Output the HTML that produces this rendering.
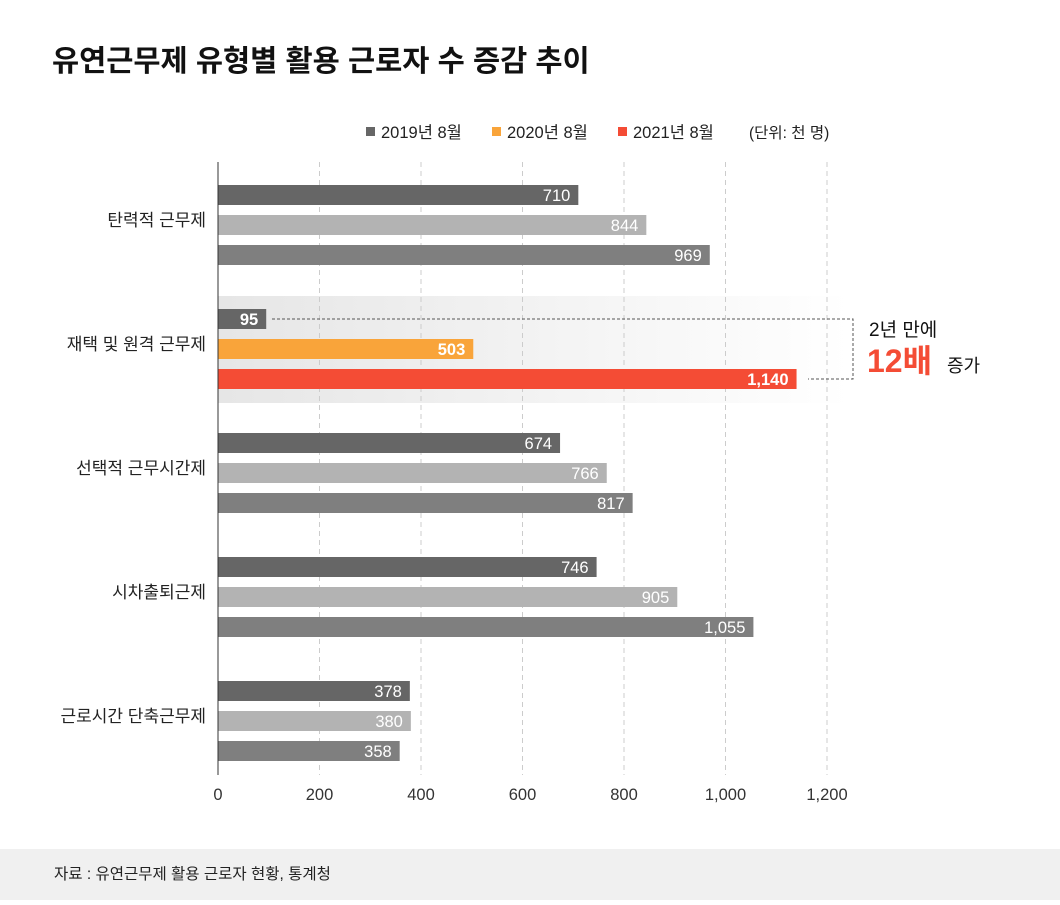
<!DOCTYPE html>
<html><head><meta charset="utf-8">
<style>
body{margin:0;width:1060px;height:900px;background:#fff;overflow:hidden;font-family:"Liberation Sans","Noto Sans CJK KR",sans-serif}
svg text{font-family:"Liberation Sans","Noto Sans CJK KR",sans-serif}
</style></head><body>
<svg id="chart" width="1060" height="900" xmlns="http://www.w3.org/2000/svg">
<defs><linearGradient id="hl" x1="0" x2="1" y1="0" y2="0"><stop offset="0" stop-color="#e6e6e6"/><stop offset="1" stop-color="#ffffff"/></linearGradient></defs>
<text x="52" y="71" font-size="29.5" font-weight="bold" fill="#111">유연근무제 유형별 활용 근로자 수 증감 추이</text>
<g font-size="16.5" fill="#222">
<rect x="366" y="127" width="9" height="9" fill="#666"/><text x="381" y="138">2019년 8월</text>
<rect x="492" y="127" width="9" height="9" fill="#f9a43a"/><text x="507" y="138">2020년 8월</text>
<rect x="618" y="127" width="9" height="9" fill="#f44c35"/><text x="633" y="138">2021년 8월</text>
<text x="749" y="138" font-size="15.5">(단위: 천 명)</text>
</g>
<rect x="218" y="296" width="632" height="107" fill="url(#hl)"/>
<g id="grid"></g><g id="bars"></g><g id="labels"></g>
<line x1="218" y1="162" x2="218" y2="775" stroke="#333" stroke-width="1"/>
<g>
<polyline points="272,319 853,319 853,379 808,379" fill="none" stroke="#555" stroke-dasharray="3,2" stroke-width="1"/>
<text x="869" y="336" font-size="19" fill="#111">2년 만에</text>
<text x="867" y="372" font-size="32" font-weight="bold" fill="#f44c35">12배</text>
<text x="947" y="372" font-size="18" fill="#111">증가</text>
</g>
<rect x="0" y="849" width="1060" height="51" fill="#f0f0f0"/>
<text x="54" y="879" font-size="15.5" fill="#222">자료 : 유연근무제 활용 근로자 현황, 통계청</text>
</svg>
<script>
const categories=["탄력적 근무제","재택 및 원격 근무제","선택적 근무시간제","시차출퇴근제","근로시간 단축근무제"];
const values2019=[710,95,674,746,378];
const values2020=[844,503,766,905,380];
const values2021=[969,1140,817,1055,358];
const ticks=[0,200,400,600,800,1000,1200];
const NS="http://www.w3.org/2000/svg";
const x0=218,pxPer=(827-218)/1200;
const xs=v=>x0+v*pxPer;
function mk(t,a,p){const e=document.createElementNS(NS,t);for(const k in a)e.setAttribute(k,a[k]);p.appendChild(e);return e;}
const grid=document.getElementById('grid'),bars=document.getElementById('bars'),labels=document.getElementById('labels');
ticks.forEach(t=>{
 if(t>0){const l=mk('line',{x1:xs(t),x2:xs(t),y1:162,y2:775,stroke:'#ccc','stroke-dasharray':'5,4'},grid);
 
 }
 const tx=mk('text',{x:xs(t),y:800,'font-size':16.5,fill:'#333','text-anchor':'middle'},labels);
 tx.textContent=t.toLocaleString('en-US');
 
 
});
const series=[values2019,values2020,values2021];
const normal=['#666666','#b3b3b3','#7f7f7f'],hi=['#666666','#f9a43a','#f44c35'];
categories.forEach((c,i)=>{
 const gy=185+i*124;
 const cl=mk('text',{x:206,y:gy+35+6,'font-size':17,fill:'#222','text-anchor':'end'},labels);
 cl.textContent=c;
 
 
 series.forEach((s,j)=>{
  const y=gy+j*30,v=s[i];
  const col=(i==1?hi:normal)[j];
  const r=mk('rect',{x:x0,y:y,width:xs(v)-x0,height:20,fill:col},bars);
  
  
  const t=mk('text',{x:xs(v)-8,y:y+16,'font-size':16.5,fill:'#fff','text-anchor':'end','font-weight':i==1?'bold':'normal'},labels);
  t.textContent=v.toLocaleString('en-US');
  
  
 });
});
</script>
</body></html>
